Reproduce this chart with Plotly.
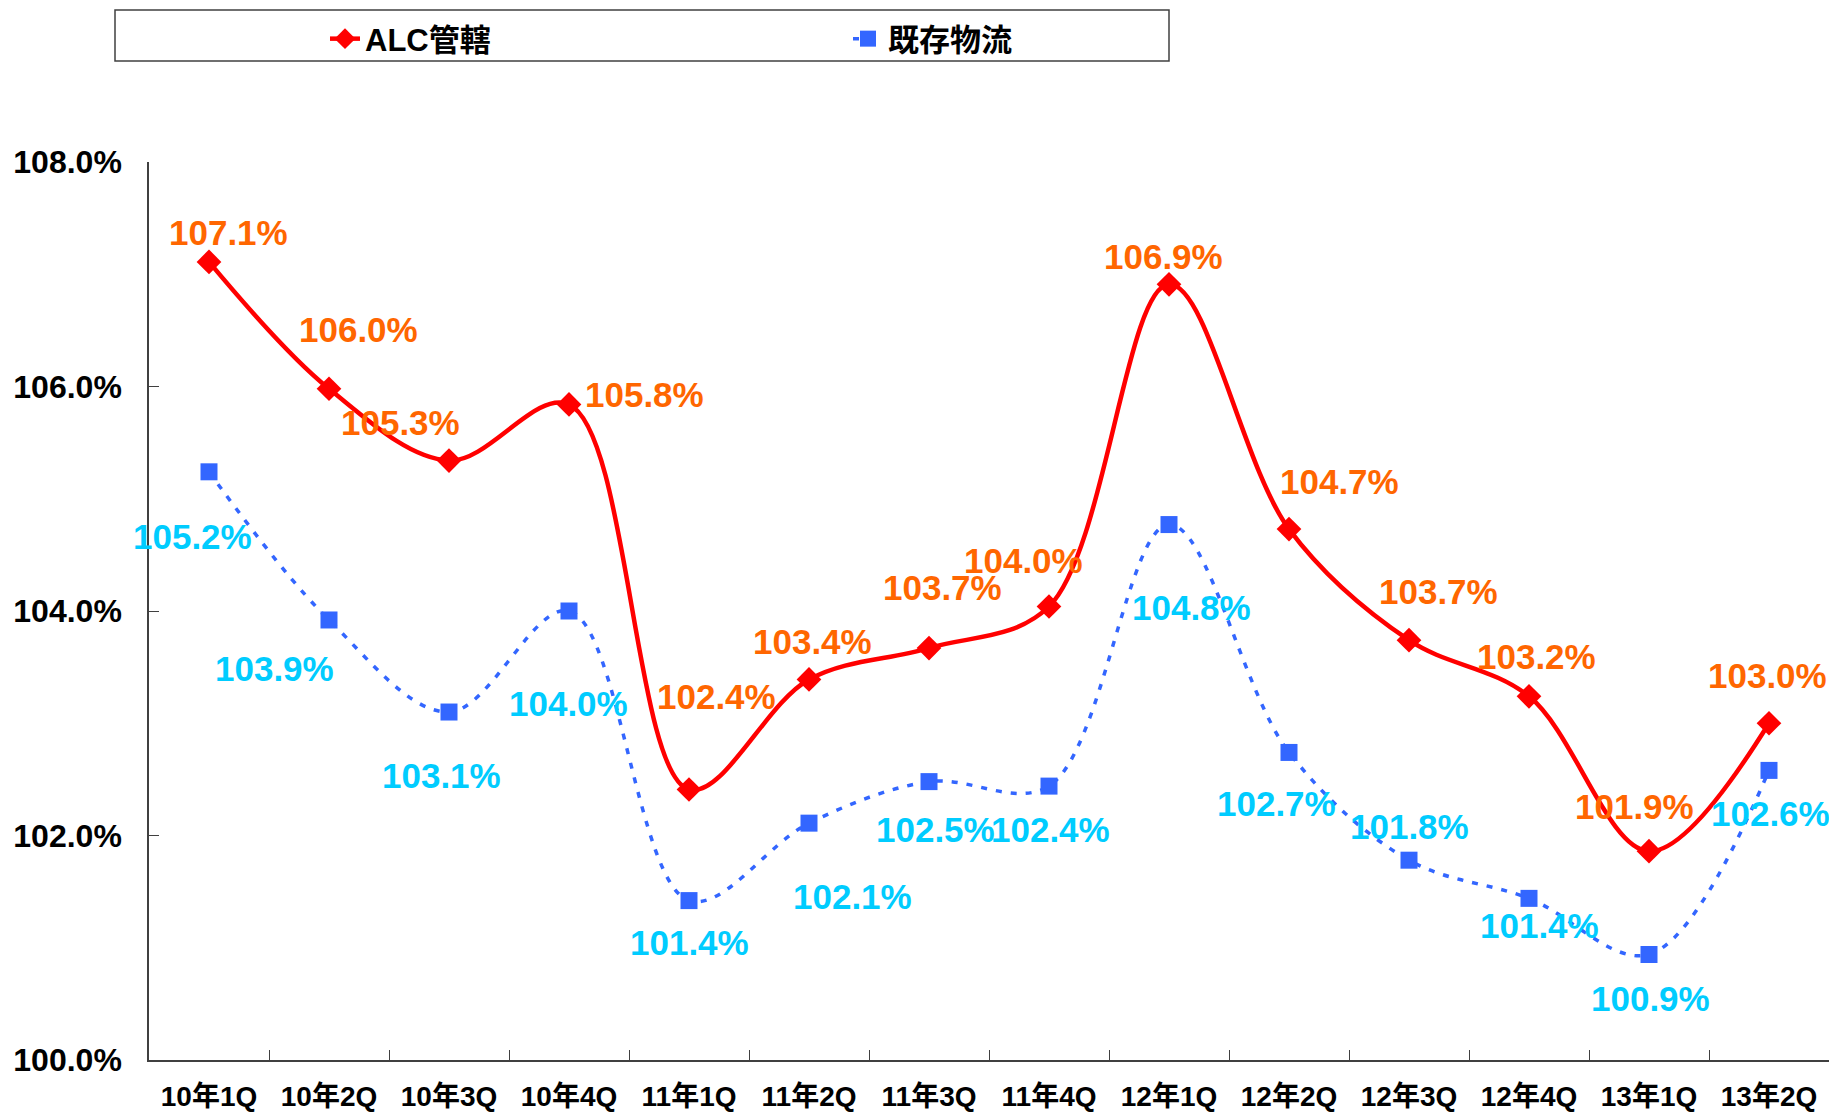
import plotly.graph_objects as go

categories = ["10年1Q", "10年2Q", "10年3Q", "10年4Q", "11年1Q", "11年2Q", "11年3Q",
              "11年4Q", "12年1Q", "12年2Q", "12年3Q", "12年4Q", "13年1Q", "13年2Q"]
alc_values = [107.11, 105.98, 105.34, 105.84, 102.41, 103.39, 103.67,
              104.04, 106.91, 104.73, 103.74, 103.24, 101.86, 103.0]
existing_values = [105.24, 103.92, 103.10, 104.0, 101.42, 102.11, 102.48,
                   102.44, 104.77, 102.74, 101.78, 101.44, 100.94, 102.58]
y_ticks = [100, 102, 104, 106, 108]

# label offsets in pixels (dx, dy with dy positive = up)
alc_offsets = [(19, 29), (29, 59), (-49, 38), (75, 10), (27, 93), (3, 38), (13, 61),
               (-26, 46), (-6, 28), (50, 48), (29, 49), (7, 40), (-15, 45), (-2, 48)]
ex_offsets = [(-17, -65), (-55, -49), (-8, -63), (-1, -92), (0, -42), (43, -73), (6, -48),
              (1, -43), (22, -83), (-13, -51), (0, 34), (10, -27), (1, -44), (1, -43)]

LABEL_FONT = "Liberation Sans, Arial, sans-serif"

fig = go.Figure()
fig.add_trace(go.Scatter(
    x=categories, y=alc_values, name="ALC管轄", mode="lines+markers",
    line=dict(color="#FF0000", width=4.5, shape="spline", smoothing=1.0),
    marker=dict(symbol="diamond", size=19, color="#FF0000"),
))
fig.add_trace(go.Scatter(
    x=categories, y=existing_values, name="既存物流", mode="lines+markers",
    line=dict(color="#3366FF", width=3.5, dash="6px,9px", shape="spline", smoothing=1.0),
    marker=dict(symbol="square", size=17, color="#3366FF"),
))

annotations = []
for c, v, (dx, dy) in zip(categories, alc_values, alc_offsets):
    annotations.append(dict(x=c, y=v, text=f"{v:.1f}%", showarrow=False,
                            xshift=dx, yshift=dy,
                            font=dict(family=LABEL_FONT, size=35, color="#FF6600",
                                      weight="bold")))
for c, v, (dx, dy) in zip(categories, existing_values, ex_offsets):
    annotations.append(dict(x=c, y=v, text=f"{v:.1f}%", showarrow=False,
                            xshift=dx, yshift=dy,
                            font=dict(family=LABEL_FONT, size=35, color="#00CCFF",
                                      weight="bold")))

W, H = 1829, 1113
ml, mr, mt, mb = 149, 0, 162, 53
pw, ph = W - ml - mr, H - mt - mb

def px_to_paper_x(px):
    return (px - ml) / pw

def px_to_paper_y(py):
    return 1 + (mt - py) / ph

fig.update_layout(
    width=W, height=H,
    margin=dict(l=ml, r=mr, t=mt, b=mb, autoexpand=False),
    plot_bgcolor="white", paper_bgcolor="white",
    annotations=annotations,
    showlegend=True,
    legend=dict(
        orientation="h", x=px_to_paper_x(325), xanchor="left",
        y=px_to_paper_y(12), yanchor="top",
        bgcolor="rgba(0,0,0,0)", borderwidth=0,
        font=dict(family="Liberation Sans, Noto Sans CJK JP, sans-serif", size=31,
                  color="black", weight="bold"),
        entrywidth=478, entrywidthmode="pixels",
    ),
    shapes=[dict(type="rect", xref="paper", yref="paper",
                 x0=px_to_paper_x(115), x1=px_to_paper_x(1169),
                 y0=px_to_paper_y(61), y1=px_to_paper_y(10),
                 line=dict(color="#404040", width=1.5), fillcolor="rgba(0,0,0,0)")],
    xaxis=dict(
        type="category", showgrid=False, showline=True, linecolor="#404040", linewidth=1.5,
        ticks="inside", ticklen=10, tickcolor="#404040", tickson="boundaries",
        range=[-0.5, len(categories) - 0.5], automargin=False,
        tickfont=dict(family="Liberation Sans, Noto Sans CJK JP, sans-serif", size=28,
                      color="black", weight="bold"),
        ticklabelstandoff=11,
    ),
    yaxis=dict(
        range=[100, 108], tickvals=y_ticks, ticktext=[f"{v:.1f}%" for v in y_ticks],
        showgrid=False, showline=True, linecolor="#404040", linewidth=1.5,
        ticks="inside", ticklen=10, tickcolor="#404040", zeroline=False, automargin=False,
        tickfont=dict(family="Liberation Sans, Arial, sans-serif", size=32, color="black",
                      weight="bold"),
        ticklabelstandoff=19,
    ),
)

fig.write_html("out.html", config={"displayModeBar": False},
               post_script="document.body.style.margin='0';document.body.style.overflow='hidden';")
